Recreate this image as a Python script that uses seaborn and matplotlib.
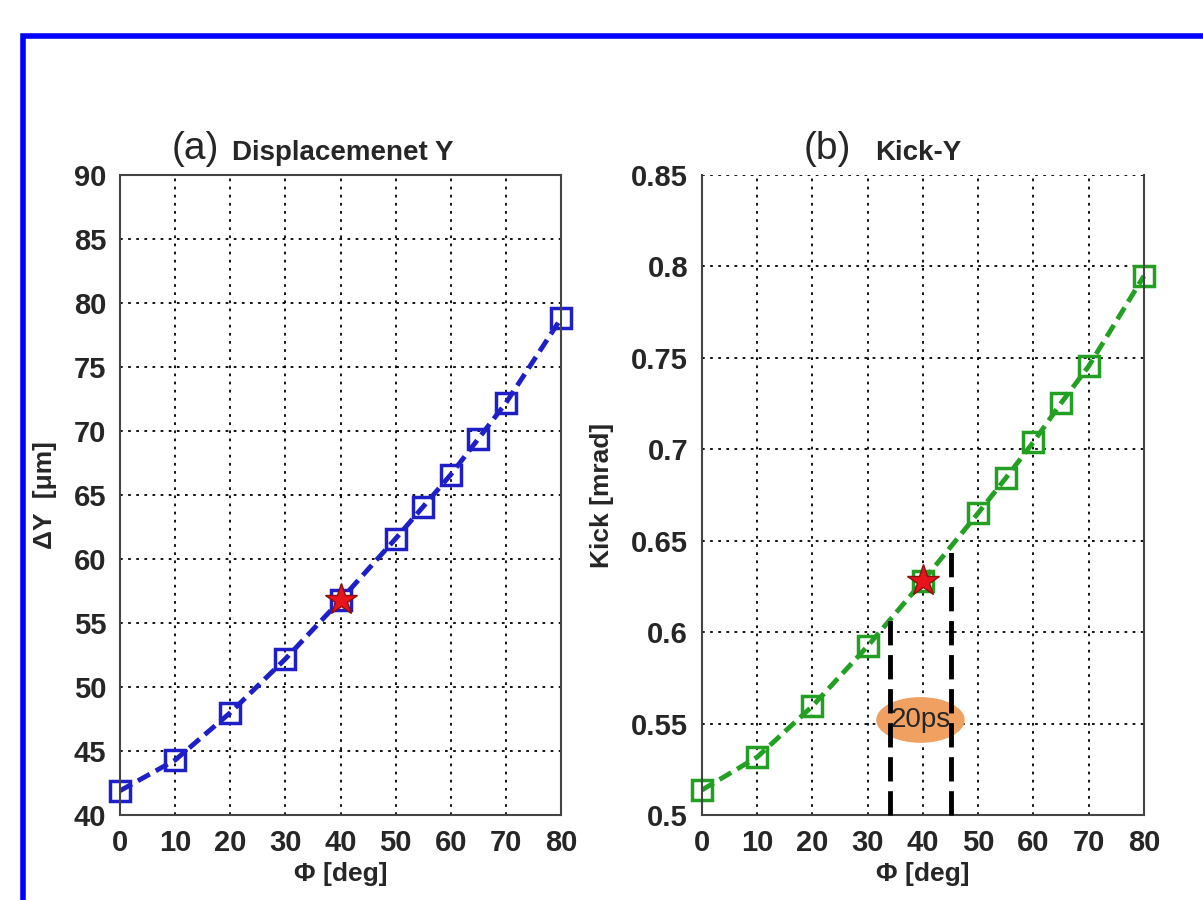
import numpy as np
import pandas as pd
import matplotlib
matplotlib.use("Agg")
import matplotlib.pyplot as plt
import seaborn as sns
from matplotlib.patches import Ellipse, Rectangle

# -----------------------------
# Data
# -----------------------------
phi = [0, 10, 20, 30, 40, 50, 55, 60, 65, 70, 80]
delta_y = [41.9, 44.3, 48.0, 52.2, 56.8, 61.6, 64.1, 66.6, 69.4, 72.2, 78.8]
kick = [0.5137, 0.5317, 0.5596, 0.5924, 0.628, 0.6652, 0.6843, 0.704, 0.7253, 0.7455, 0.7948]

star_phi = 40
star_dy = 56.8
star_kick = 0.628

# 20 ps window marked on panel (b)
window_phi = [34.0, 45.1]
window_top = [0.6067, 0.6477]
window_label = "20ps"

df = pd.DataFrame({"phi": phi, "dy": delta_y, "kick": kick})

sns.set_style("white")
plt.rcParams["font.family"] = ["Liberation Sans", "DejaVu Sans"]

BLUE = "#1f1fc8"
GREEN = "#23a023"

fig = plt.figure(figsize=(12.03, 9), dpi=100)
ax_a = fig.add_axes([0.0998, 0.0944, 0.3666, 0.7111])
ax_b = fig.add_axes([0.5835, 0.0944, 0.3674, 0.7111])

# blue frame around the figure
fig.patches.append(Rectangle((0.0195, -0.05), 1.2, 1.0105, transform=fig.transFigure,
                             fill=False, edgecolor="#0000ff", linewidth=4, zorder=0))


def style_axes(ax, ylim, yticks, yfmt):
    ax.set_xlim(0, 80)
    ax.set_ylim(*ylim)
    ax.set_xticks(range(0, 81, 10))
    ax.set_yticks(yticks)
    ax.set_yticklabels([yfmt(v) for v in yticks])
    ax.grid(True, linestyle=(0, (1.5, 3)), color="black", linewidth=1.3)
    for s in ax.spines.values():
        s.set_color("#444444")
        s.set_linewidth(1.5)
    ax.tick_params(axis="both", labelsize=21, pad=10, length=0)
    for lab in ax.get_xticklabels() + ax.get_yticklabels():
        lab.set_fontweight("bold")
    ax.set_xlabel("Φ [deg]", fontsize=19, fontweight="bold", labelpad=4)
    for ln in ax.lines:
        ln.set_clip_on(False)


# ---- panel (a)
sns.lineplot(data=df, x="phi", y="dy", ax=ax_a, color=BLUE, linewidth=3.5,
             marker="s", markersize=14, markerfacecolor="none", markeredgecolor=BLUE,
             markeredgewidth=2.5, dashes=False)
ax_a.lines[0].set_linestyle((0, (2.8, 1.4)))
ax_a.plot([star_phi], [star_dy], marker="*", markersize=24, color="#e8141c",
          markeredgecolor="#8a1010", markeredgewidth=1, zorder=5)
style_axes(ax_a, (40, 90), list(range(40, 91, 5)), lambda v: f"{v:d}")
ax_a.set_ylabel("ΔY  [μm]", fontsize=19, fontweight="bold", labelpad=12)
ax_a.text(0.17, 1.04, "(a)", transform=ax_a.transAxes, fontsize=28, ha="center", va="center")
ax_a.text(0.254, 1.035, "Displacemenet Y", transform=ax_a.transAxes, fontsize=20,
          fontweight="bold", ha="left", va="center")

# ---- panel (b)
sns.lineplot(data=df, x="phi", y="kick", ax=ax_b, color=GREEN, linewidth=3.5,
             marker="s", markersize=14, markerfacecolor="none", markeredgecolor=GREEN,
             markeredgewidth=2.5, dashes=False)
ax_b.lines[0].set_linestyle((0, (2.8, 1.4)))
ax_b.plot([star_phi], [star_kick], marker="*", markersize=24, color="#e8141c",
          markeredgecolor="#8a1010", markeredgewidth=1, zorder=5)
style_axes(ax_b, (0.5, 0.85), [0.5, 0.55, 0.6, 0.65, 0.7, 0.75, 0.8, 0.85],
           lambda v: f"{v:g}")
ax_b.spines["top"].set_visible(False)
ax_b.set_ylabel("Kick [mrad]", fontsize=19, fontweight="bold", labelpad=12)
ax_b.text(0.283, 1.04, "(b)", transform=ax_b.transAxes, fontsize=28, ha="center", va="center")
ax_b.text(0.391, 1.035, "Kick-Y", transform=ax_b.transAxes, fontsize=20,
          fontweight="bold", ha="left", va="center")

ell = Ellipse((np.mean(window_phi), 0.552), 16, 0.025, facecolor="#f0a060", edgecolor="none",
              zorder=3)
ax_b.add_patch(ell)
for xv, top in zip(window_phi, window_top):
    ax_b.plot([xv, xv], [0.5, top], color="black", linestyle=(0, (5, 2)), linewidth=3.5,
              zorder=4, clip_on=False)
ax_b.text(np.mean(window_phi), 0.552, window_label, fontsize=20, ha="center", va="center",
          zorder=6)

fig.savefig("out.png", dpi=100)
